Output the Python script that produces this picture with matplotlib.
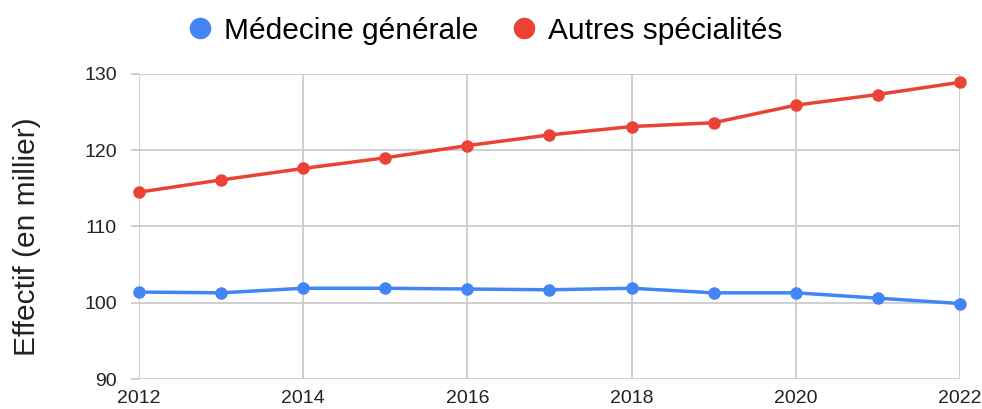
import matplotlib
matplotlib.use('Agg')
import matplotlib.pyplot as plt

plt.rcParams['font.family'] = ['Liberation Sans', 'DejaVu Sans']

years = [2012, 2013, 2014, 2015, 2016, 2017, 2018, 2019, 2020, 2021, 2022]
medecine_generale = [101.4, 101.3, 101.9, 101.9, 101.8, 101.7, 101.9, 101.3, 101.3, 100.6, 99.9]
autres_specialites = [114.5, 116.1, 117.6, 119.0, 120.6, 122.0, 123.1, 123.6, 125.9, 127.3, 128.9]
yticks = [90, 100, 110, 120, 130]
xticks = [2012, 2014, 2016, 2018, 2020, 2022]

blue = '#4285F4'
red = '#EA4335'
grid = '#cccccc'

fig = plt.figure(figsize=(9.82, 4.09), dpi=100)
ax = fig.add_axes([0.1415, 0.0733, 0.836, 0.746])

ax.plot(years, medecine_generale, color=blue, lw=2.5, marker='o', ms=8,
        label='Médecine générale', clip_on=False, zorder=3)
ax.plot(years, autres_specialites, color=red, lw=2.5, marker='o', ms=8,
        label='Autres spécialités', clip_on=False, zorder=3)

ax.set_xlim(2012, 2022)
ax.set_ylim(90, 130)
ax.set_xticks(xticks)
ax.set_yticks(yticks)
ax.set_xticklabels([str(x) for x in xticks], fontsize=14, color='#222222')
ax.set_yticklabels([str(y) for y in yticks], fontsize=14, color='#222222')
ax.tick_params(axis='x', length=0, pad=8)
ax.tick_params(axis='y', length=6, color=grid, width=1.3, pad=10)
ax.grid(True, color=grid, lw=1.3)
ax.set_axisbelow(True)
for s in ax.spines.values():
    s.set_visible(False)

ax.set_ylabel('Effectif (en millier)', fontsize=21.5, color='#222222')
ax.yaxis.set_label_coords(-0.119, 0.466)

leg = fig.legend(loc='upper center', bbox_to_anchor=(0.495, 1.025), ncol=2, frameon=False,
                 fontsize=21.5, handlelength=0.7, handletextpad=0.45, columnspacing=1.2)
for h in leg.legend_handles:
    h.set_linestyle('None')
    h.set_markersize(14.5)

fig.savefig('out.png', dpi=100)
